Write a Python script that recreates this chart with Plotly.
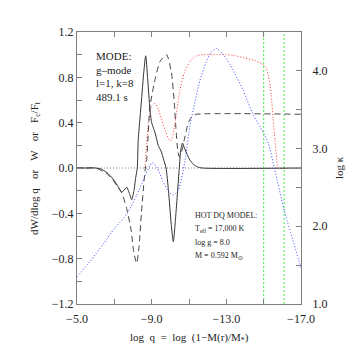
import plotly.graph_objects as go

# dW/dlog q (solid)
work_x = [-5.0, -5.5, -6.0, -6.3, -6.6, -6.9, -7.15, -7.39, -7.5, -7.66, -7.8, -7.93, -8.05,
          -8.15, -8.23, -8.28, -8.38, -8.47, -8.58, -8.68, -8.78, -8.91, -9.0, -9.1, -9.2,
          -9.35, -9.5, -9.65, -9.77, -9.9, -10.05, -10.16, -10.3, -10.48, -10.55, -10.65,
          -10.75, -10.9, -11.05, -11.25, -11.45, -11.7, -17.0]
work_y = [0.0, 0.0, 0.0, -0.01, -0.04, -0.09, -0.15, -0.21, -0.2, -0.17, -0.22, -0.28, -0.2,
          -0.08, 0.0, 0.25, 0.45, 0.63, 0.85, 0.99, 0.8, 0.51, 0.4, 0.35, 0.3,
          0.2, 0.15, 0.07, 0.0, -0.2, -0.5, -0.65, -0.4, 0.0, 0.15, 0.22,
          0.18, 0.12, 0.07, 0.03, 0.01, 0.0, 0.0]

# W (dashed)
w_x = [-5.0, -5.5, -6.0, -6.6, -6.9, -7.15, -7.4, -7.65, -7.9, -8.05, -8.2, -8.32, -8.45,
       -8.6, -8.66, -8.73, -8.91, -9.18, -9.45, -9.8, -10.05, -10.2, -10.3, -10.4, -10.48,
       -10.6, -10.75, -10.9, -11.05, -11.2, -11.4, -17.0]
w_y = [0.0, 0.0, 0.0, -0.05, -0.1, -0.16, -0.22, -0.35, -0.55, -0.75, -0.84, -0.7, -0.4,
       -0.1, 0.0, 0.07, 0.54, 0.78, 0.94, 1.0, 0.85, 0.6, 0.35, 0.15, 0.1,
       0.14, 0.25, 0.36, 0.43, 0.46, 0.474, 0.474]

# F_c/F_t (red dotted)
fc_x = [-8.64, -8.7, -8.8, -8.9, -9.0, -9.18, -9.35, -9.55, -9.75, -9.9, -10.0, -10.1, -10.25,
        -10.52, -10.75, -11.05, -11.4, -11.8, -12.5, -13.0, -13.5, -14.0, -14.5, -14.9,
        -15.1, -15.25, -15.4, -15.5, -15.6, -15.7, -15.78, -16.2]
fc_y = [0.0, 0.15, 0.35, 0.48, 0.55, 0.57, 0.52, 0.42, 0.32, 0.26, 0.24, 0.26, 0.4,
        0.69, 0.84, 0.94, 0.99, 1.0, 1.0, 1.0, 0.99, 0.97, 0.95, 0.92,
        0.89, 0.82, 0.65, 0.45, 0.25, 0.08, 0.0, 0.0]

# log kappa (blue dotted, right axis)
kap_x = [-5.0, -5.7, -6.4, -7.0, -7.65, -8.2, -8.6, -8.9, -9.05, -9.3, -9.6, -9.9, -10.13,
         -10.43, -10.79, -11.05, -11.23, -11.59, -12.12, -12.45, -12.8, -13.2, -13.6, -13.9,
         -14.45, -14.9, -15.25, -15.6, -16.14, -17.0]
kap_y = [1.35, 1.55, 1.77, 1.97, 2.15, 2.4, 2.62, 2.78, 2.82, 2.75, 2.58, 2.45, 2.40,
         2.47, 2.85, 3.30, 3.50, 3.88, 4.22, 4.29, 4.22, 4.08, 3.9, 3.75,
         3.43, 3.24, 3.07, 2.72, 2.17, 1.47]

zone_edges = [-15.0, -16.1]

x_ticks = [-5, -7, -9, -11, -13, -15, -17]
x_text = ["\u22125.0", "", "\u22129.0", "", "\u221213.0", "", "\u221217.0"]
y_ticks = [-1.2, -1.0, -0.8, -0.6, -0.4, -0.2, 0.0, 0.2, 0.4, 0.6, 0.8, 1.0, 1.2]
y_text = ["\u22121.2", "", "\u22120.8", "", "\u22120.4", "", "0.0", "", "0.4", "", "0.8", "", "1.2"]
k_ticks = [1.0, 1.5, 2.0, 2.5, 3.0, 3.5, 4.0, 4.5]
k_text = ["1.0", "", "2.0", "", "3.0", "", "4.0", ""]

FONT = "Liberation Serif"
FRAME = "#808080"
DOT = "1px,2px"
GAP = "  \u2004"

fig = go.Figure()

# zero line and convection-zone markers
fig.add_trace(go.Scatter(x=[-5, -17], y=[0, 0], mode='lines',
                         line=dict(color="#888888", width=1, dash=DOT)))
for xv in zone_edges:
    fig.add_trace(go.Scatter(x=[xv, xv], y=[-1.2, 1.2], mode='lines',
                             line=dict(color="#66ee66", width=1.2, dash="2px,2px")))

fig.add_trace(go.Scatter(x=kap_x, y=kap_y, mode='lines', yaxis='y2',
                         line=dict(color="#3344ff", width=1, dash=DOT, shape='spline', smoothing=0.6)))
fig.add_trace(go.Scatter(x=fc_x, y=fc_y, mode='lines',
                         line=dict(color="#ff3333", width=1, dash=DOT, shape='spline', smoothing=0.6)))
fig.add_trace(go.Scatter(x=w_x, y=w_y, mode='lines',
                         line=dict(color="#444444", width=1, dash='6px,4px', shape='spline', smoothing=0.6)))
fig.add_trace(go.Scatter(x=work_x, y=work_y, mode='lines',
                         line=dict(color="#333333", width=1, shape='spline', smoothing=0.6)))

mode_lines = ["MODE:", "g\u2013mode", "l=1, k=8", "489.1 s"]
for i, txt in enumerate(mode_lines):
    fig.add_annotation(x=0.075, y=0.912 - i * 0.0505, xref='paper', yref='paper', text=txt,
                       showarrow=False, xanchor='left', yanchor='middle',
                       font=dict(family=FONT, size=11, color="#222"))

model_lines = ["HOT DQ MODEL:", "T<sub>eff</sub> = 17,000 K", "log g = 8.0", "M = 0.592 M<sub>\u2299</sub>"]
for i, txt in enumerate(model_lines):
    fig.add_annotation(x=0.52, y=0.327 - i * 0.05, xref='paper', yref='paper', text=txt,
                       showarrow=False, xanchor='left', yanchor='middle',
                       font=dict(family=FONT, size=8, color="#222"))

fig.add_annotation(x=0.5, y=-0.125, xref='paper', yref='paper', xanchor='center', yanchor='middle',
                   text="log  q  =  log  (1\u2212M(r)/M<sub>*</sub>)", showarrow=False,
                   font=dict(family=FONT, size=11, color="#222"))
fig.add_annotation(x=-0.188, y=0.5, xref='paper', yref='paper', xanchor='center', yanchor='middle',
                   textangle=-90,
                   text="dW/dlog q" + GAP + "or" + GAP + "W" + GAP + "or" + GAP + "F<sub>c</sub>/F<sub>t</sub>",
                   showarrow=False, font=dict(family=FONT, size=11, color="#222"))
fig.add_annotation(x=1.17, y=0.5, xref='paper', yref='paper', xanchor='center', yanchor='middle',
                   textangle=-90,
                   text="log \u03ba", showarrow=False,
                   font=dict(family=FONT, size=11, color="#222"))

axis_common = dict(showgrid=False, zeroline=False, showline=True, linecolor=FRAME, linewidth=1,
                   ticks='inside', ticklen=5, tickcolor=FRAME,
                   tickfont=dict(family=FONT, size=12, color="#222"))

# page body has an 8px margin, so the figure is trimmed by that amount
fig.update_layout(
    width=351, height=351,
    margin=dict(l=69, r=58, t=24, b=55),
    plot_bgcolor="white", paper_bgcolor="white",
    showlegend=False,
    xaxis=dict(range=[-5, -17], tickvals=x_ticks, ticktext=x_text, mirror='ticks',
               ticklabelstandoff=4, **axis_common),
    yaxis=dict(range=[-1.2, 1.2], tickvals=y_ticks, ticktext=y_text, **axis_common),
    yaxis2=dict(range=[1.0, 4.5], tickvals=k_ticks, ticktext=k_text, overlaying='y', side='right',
                ticklabelstandoff=8, **axis_common),
)

fig.write_html("out.html")
